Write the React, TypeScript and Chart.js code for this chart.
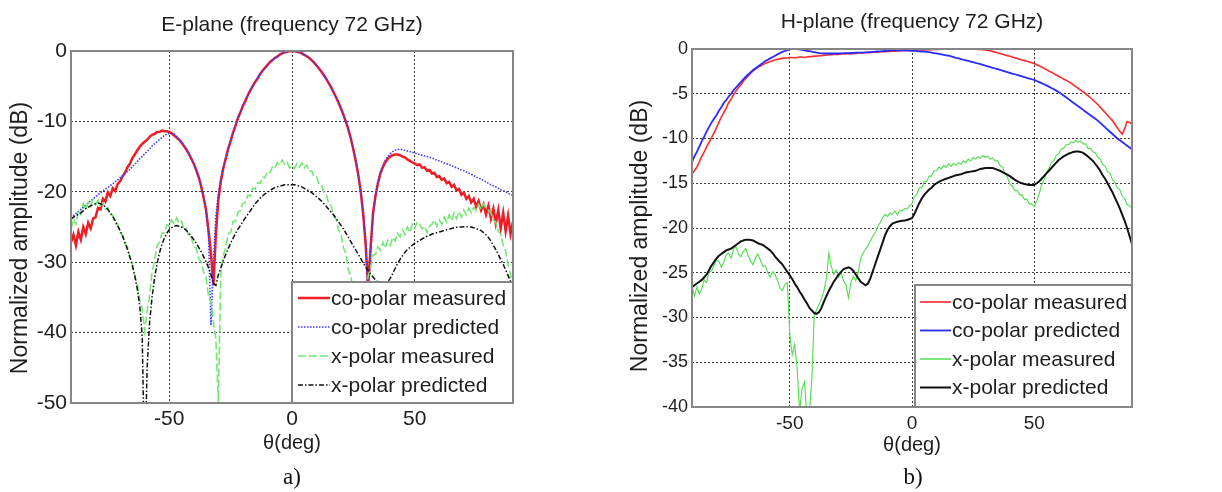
import React, { useEffect, useRef } from "react";
import { Chart, registerables } from "chart.js";

Chart.register(...registerables);

// ---------- data ----------
const THETA = [
  -90, -89, -88, -87, -86, -85, -84, -83, -82, -81,
  -80, -79, -78, -77, -76, -75, -74, -73, -72, -71,
  -70, -69, -68, -67, -66, -65, -64, -63, -62, -61,
  -60, -59, -58, -57, -56, -55, -54, -53, -52, -51,
  -50, -49, -48, -47, -46, -45, -44, -43, -42, -41,
  -40, -39, -38, -37, -36, -35, -34, -33, -32, -31,
  -30,
  -29, -28, -27, -26, -25, -24, -23, -22, -21, -20,
  -19, -18, -17, -16, -15, -14, -13, -12, -11, -10,
  -9, -8, -7, -6, -5, -4, -3, -2, -1, 0,
  1, 2, 3, 4, 5, 6, 7, 8, 9, 10,
  11, 12, 13, 14, 15, 16, 17, 18, 19, 20,
  21, 22, 23, 24, 25, 26, 27, 28, 29, 30,
  31, 32, 33, 34, 35, 36, 37, 38, 39, 40,
  41, 42, 43, 44, 45, 46, 47, 48, 49, 50,
  51, 52, 53, 54, 55, 56, 57, 58, 59, 60,
  61, 62, 63, 64, 65, 66, 67, 68, 69, 70,
  71, 72, 73, 74, 75, 76, 77, 78, 79, 80,
  81, 82, 83, 84, 85, 86, 87, 88, 89, 90,
];

const X_TICKS = [-50, 0, 50];
const LEGEND_LABELS = ["co-polar measured", "co-polar predicted", "x-polar measured", "x-polar predicted"];
const E_TITLE = "E-plane (frequency 72 GHz)";
const H_TITLE = "H-plane (frequency 72 GHz)";
const X_LABEL = "θ(deg)";
const Y_LABEL = "Normalized amplitude (dB)";
const PANEL_LABELS = ["a)", "b)"];

// E-plane
const E_COPOL_MEAS = [
  -27.2, -26.1, -27.6, -25.7, -26.8, -25.0, -26.0, -24.4, -25.2, -23.8,
  -23.6, -22.3, -22.5, -21.0, -21.4, -20.1, -20.6, -19.5, -19.9, -18.9,
  -18.5, -17.8, -17.3, -16.5, -16.0, -15.2, -14.7, -14.1, -13.6, -13.2,
  -12.9, -12.6, -12.2, -11.9, -11.8, -11.5, -11.5, -11.3, -11.4, -11.4,
  -11.5, -11.7, -12.0, -12.3, -12.6, -13.0, -13.5, -14.0, -14.6, -15.3,
  -16.0, -16.9, -17.9, -19.2, -20.8, -22.6, -25.5, -28.8, -33.3, -26.0,
  -21.2,
  -18.5, -16.7, -15.3, -13.9, -12.8, -11.6, -10.6, -9.5, -8.7, -7.8,
  -7.1, -6.3, -5.6, -5.0, -4.4, -3.9, -3.3, -2.8, -2.4, -2.0,
  -1.6, -1.3, -1.0, -0.8, -0.5, -0.35, -0.2, -0.1, -0.05, 0,
  -0.05, -0.1, -0.2, -0.35, -0.55, -0.75, -1.0, -1.3, -1.65, -2.05,
  -2.5, -2.95, -3.45, -4.0, -4.6, -5.2, -5.9, -6.6, -7.4, -8.2,
  -9.1, -10.1, -11.2, -12.5, -14.0, -15.7, -17.6, -20.0, -23.2, -27.5,
  -33.5, -28.0, -23.0, -20.6, -18.8, -17.4, -16.5, -15.8, -15.3, -15.0,
  -14.8, -14.7, -14.7, -14.8, -15.0, -15.1, -15.4, -15.6, -15.8, -16.0,
  -16.2, -16.1, -16.6, -16.5, -17.0, -16.9, -17.4, -17.3, -17.9, -17.8,
  -18.3, -18.1, -18.8, -18.6, -19.3, -19.0, -19.8, -19.6, -20.4, -20.1,
  -21.0, -20.6, -21.5, -21.0, -22.1, -21.3, -22.6, -21.8, -23.2, -22.0,
  -23.8, -22.4, -24.5, -22.6, -25.2, -23.0, -25.6, -23.4, -26.0, -24.2,
];

const E_COPOL_PRED = [
  -23.7, -23.4, -23.1, -22.8, -22.5, -22.2, -21.9, -21.6, -21.3, -21.0,
  -20.7, -20.4, -20.1, -19.9, -19.6, -19.4, -19.1, -18.9, -18.6, -18.3,
  -18.0, -17.7, -17.4, -17.1, -16.8, -16.4, -16.1, -15.7, -15.3, -15.0,
  -14.6, -14.3, -13.9, -13.5, -13.2, -12.9, -12.6, -12.3, -12.0, -11.8,
  -11.7, -11.7, -11.8, -12.1, -12.5, -12.9, -13.4, -14.0, -14.6, -15.3,
  -16.1, -17.0, -18.0, -19.2, -20.6, -22.6, -26.2, -39.0, -30.0, -23.5,
  -20.3,
  -18.2, -16.6, -15.2, -13.9, -12.7, -11.6, -10.5, -9.5, -8.6, -7.8,
  -7.0, -6.3, -5.6, -5.0, -4.4, -3.8, -3.3, -2.8, -2.4, -2.0,
  -1.6, -1.3, -1.0, -0.75, -0.53, -0.34, -0.19, -0.09, -0.02, 0,
  -0.02, -0.09, -0.19, -0.34, -0.53, -0.75, -1.0, -1.3, -1.65, -2.05,
  -2.5, -2.95, -3.45, -4.0, -4.6, -5.2, -5.9, -6.6, -7.4, -8.2,
  -9.1, -10.1, -11.2, -12.5, -14.0, -15.7, -17.6, -20.0, -23.0, -27.0,
  -35.0, -28.5, -23.5, -20.5, -18.6, -17.2, -16.2, -15.5, -15.0, -14.6,
  -14.3, -14.1, -14.0, -13.95, -14.0, -14.1, -14.2, -14.3, -14.4, -14.5,
  -14.6, -14.7, -14.8, -14.9, -15.0, -15.1, -15.2, -15.35, -15.5, -15.6,
  -15.75, -15.9, -16.0, -16.15, -16.3, -16.45, -16.6, -16.75, -16.9, -17.0,
  -17.2, -17.35, -17.5, -17.7, -17.9, -18.05, -18.2, -18.4, -18.6, -18.8,
  -19.0, -19.15, -19.3, -19.5, -19.7, -19.85, -20.0, -20.2, -20.35, -20.5,
];

const E_XPOL_MEAS = [
  -25.3, -23.8, -24.6, -22.6, -23.2, -21.7, -22.6, -21.5, -22.0, -21.1,
  -21.8, -21.2, -22.0, -21.6, -22.5, -22.3, -23.2, -23.3, -24.5, -24.6,
  -25.8, -26.2, -27.4, -27.8, -29.3, -30.2, -32.0, -33.0, -35.4, -36.6,
  -39.8, -37.0, -34.8, -31.4, -29.9, -27.7, -27.2, -25.9, -25.8, -24.7,
  -24.9, -24.0, -24.5, -23.7, -24.5, -24.2, -25.3, -25.2, -26.4, -26.5,
  -27.8, -28.0, -29.5, -29.9, -31.4, -32.2, -34.8, -35.6, -38.5, -41.0,
  -50.0,
  -31.8, -29.0, -28.0, -26.0, -25.8, -24.2, -24.2, -22.9, -22.7, -21.6,
  -21.5, -20.5, -20.6, -19.5, -19.6, -18.7, -18.8, -17.9, -18.0, -17.1,
  -17.3, -16.5, -16.7, -15.9, -16.2, -15.5, -16.1, -15.8, -16.6, -16.3,
  -16.7, -16.0, -16.5, -15.9, -16.6, -16.2, -17.1, -17.0, -17.9, -17.9,
  -18.9, -19.0, -20.1, -20.4, -21.7, -22.0, -23.5, -23.9, -25.5, -26.0,
  -28.0, -28.8, -31.2, -32.0, -34.5, -35.5, -38.0, -40.0, -37.5, -35.0,
  -32.0, -30.8, -29.0, -28.9, -27.8, -28.3, -27.2, -28.0, -26.9, -27.6,
  -26.5, -27.0, -25.9, -26.4, -25.4, -26.1, -25.0, -25.8, -24.6, -25.2,
  -24.3, -24.6, -25.3, -24.9, -25.8, -24.9, -24.6, -24.0, -24.9, -24.0,
  -24.6, -23.6, -24.3, -23.3, -24.1, -23.0, -23.8, -22.8, -23.6, -22.6,
  -23.3, -22.4, -23.0, -22.2, -22.7, -21.8, -22.5, -21.7, -22.3, -22.6,
  -23.0, -24.0, -24.3, -25.6, -26.0, -27.6, -28.4, -30.4, -31.8, -34.5,
];

const E_XPOL_PRED = [
  -23.9, -23.6, -23.4, -23.2, -23.0, -22.7, -22.4, -22.2, -22.0, -21.8,
  -21.7, -21.6, -21.7, -21.9, -22.1, -22.5, -23.0, -23.5, -24.1, -24.8,
  -25.5, -26.3, -27.2, -28.2, -29.3, -30.5, -32.0, -33.8, -36.2, -40.5,
  -60.0, -45.0, -38.6, -35.0, -32.3, -30.3, -28.7, -27.5, -26.6, -25.9,
  -25.4, -25.1, -24.9, -24.8, -24.9, -25.0, -25.2, -25.5, -25.9, -26.3,
  -26.8, -27.3, -27.9, -28.5, -29.2, -29.9, -30.8, -31.8, -33.0, -33.3,
  -31.8,
  -30.8, -29.8, -28.9, -28.1, -27.3, -26.6, -25.9, -25.3, -24.8, -24.2,
  -23.7, -23.2, -22.7, -22.2, -21.7, -21.3, -20.9, -20.6, -20.3, -20.1,
  -19.8, -19.6, -19.4, -19.3, -19.2, -19.1, -19.0, -19.0, -19.0, -19.0,
  -19.0, -19.1, -19.2, -19.3, -19.5, -19.7, -19.9, -20.1, -20.4, -20.7,
  -21.0, -21.3, -21.7, -22.1, -22.5, -22.9, -23.3, -23.8, -24.3, -24.8,
  -25.3, -25.9, -26.5, -27.1, -27.7, -28.3, -28.9, -29.5, -30.1, -30.7,
  -31.2, -31.7, -32.1, -32.5, -32.8, -33.0, -33.1, -33.1, -32.8, -32.3,
  -31.6, -30.9, -30.2, -29.6, -29.1, -28.6, -28.2, -27.9, -27.6, -27.3,
  -27.1, -26.9, -26.7, -26.5, -26.3, -26.2, -26.0, -25.9, -25.8, -25.7,
  -25.6, -25.5, -25.4, -25.3, -25.2, -25.1, -25.05, -25.0, -25.0, -24.95,
  -24.95, -25.0, -25.0, -25.1, -25.2, -25.35, -25.5, -25.8, -26.1, -26.5,
  -27.0, -27.6, -28.2, -28.9, -29.6, -30.3, -31.1, -31.9, -32.7, -33.5,
];

// H-plane
const H_COPOL_MEAS = [
  -13.9, -13.6, -13.2, -12.6, -12.0, -11.5, -10.9, -10.4, -9.9, -9.4,
  -8.8, -8.2, -7.6, -7.1, -6.6, -6.0, -5.6, -5.1, -4.7, -4.3,
  -4.0, -3.6, -3.3, -3.0, -2.7, -2.45, -2.25, -2.05, -1.9, -1.75,
  -1.6, -1.5, -1.4, -1.3, -1.2, -1.15, -1.1, -1.05, -1.0, -1.0,
  -0.95, -0.95, -1.0, -0.95, -0.9, -0.9, -0.95, -0.9, -0.85, -0.85,
  -0.8, -0.8, -0.75, -0.75, -0.7, -0.7, -0.65, -0.65, -0.6, -0.6,
  -0.6,
  -0.55, -0.55, -0.55, -0.5, -0.55, -0.5, -0.5, -0.45, -0.45, -0.45,
  -0.4, -0.4, -0.4, -0.35, -0.35, -0.35, -0.3, -0.3, -0.3, -0.28,
  -0.27, -0.25, -0.24, -0.22, -0.2, -0.2, -0.18, -0.17, -0.16, -0.15,
  -0.14, -0.13, -0.12, -0.11, -0.1, -0.09, -0.08, -0.07, -0.06, -0.05,
  -0.04, -0.03, -0.02, -0.01, 0, 0, 0, 0, 0, 0,
  0, 0, 0, 0, 0, -0.02, -0.04, -0.06, -0.08, -0.1,
  -0.15, -0.2, -0.27, -0.35, -0.43, -0.5, -0.58, -0.66, -0.74, -0.82,
  -0.9, -0.98, -1.06, -1.14, -1.22, -1.3, -1.38, -1.46, -1.54, -1.62,
  -1.75, -1.88, -2.0, -2.15, -2.3, -2.45, -2.6, -2.75, -2.9, -3.05,
  -3.2, -3.35, -3.5, -3.65, -3.8, -4.0, -4.2, -4.4, -4.6, -4.8,
  -5.0, -5.2, -5.45, -5.7, -5.95, -6.2, -6.5, -6.8, -7.1, -7.4,
  -7.7, -8.0, -8.4, -8.8, -9.2, -9.5, -8.9, -8.1, -8.2, -8.4,
];

const H_COPOL_PRED = [
  -12.6, -12.0, -11.5, -10.9, -10.3, -9.8, -9.2, -8.7, -8.2, -7.8,
  -7.4, -6.9, -6.5, -6.0, -5.7, -5.3, -5.0, -4.6, -4.3, -4.0,
  -3.7, -3.4, -3.1, -2.85, -2.6, -2.35, -2.15, -1.95, -1.75, -1.55,
  -1.35, -1.2, -1.05, -0.9, -0.75, -0.6, -0.45, -0.33, -0.22, -0.12,
  -0.05, 0, 0, 0, -0.05, -0.1, -0.15, -0.2, -0.25, -0.3,
  -0.35, -0.4, -0.45, -0.48, -0.5, -0.5, -0.5, -0.5, -0.5, -0.5,
  -0.5,
  -0.48, -0.47, -0.46, -0.45, -0.44, -0.43, -0.42, -0.41, -0.4, -0.4,
  -0.38, -0.36, -0.34, -0.32, -0.3, -0.28, -0.26, -0.24, -0.22, -0.2,
  -0.18, -0.16, -0.15, -0.15, -0.15, -0.15, -0.16, -0.17, -0.18, -0.2,
  -0.22, -0.24, -0.26, -0.28, -0.3, -0.33, -0.36, -0.4, -0.45, -0.5,
  -0.55, -0.6, -0.65, -0.7, -0.75, -0.82, -0.9, -0.98, -1.05, -1.12,
  -1.2, -1.27, -1.34, -1.41, -1.48, -1.55, -1.62, -1.7, -1.78, -1.86,
  -1.94, -2.02, -2.1, -2.18, -2.26, -2.34, -2.42, -2.5, -2.58, -2.66,
  -2.74, -2.82, -2.9, -2.98, -3.06, -3.14, -3.22, -3.3, -3.38, -3.46,
  -3.58, -3.7, -3.82, -3.94, -4.06, -4.2, -4.35, -4.5, -4.65, -4.8,
  -5.0, -5.2, -5.4, -5.6, -5.8, -6.0, -6.2, -6.4, -6.6, -6.8,
  -7.0, -7.2, -7.4, -7.6, -7.8, -8.0, -8.25, -8.5, -8.75, -9.0,
  -9.25, -9.5, -9.75, -10.0, -10.2, -10.4, -10.6, -10.8, -11.0, -11.2,
];

const H_XPOL_MEAS = [
  -26.5, -27.6, -26.6, -27.4, -26.8, -25.8, -26.1, -24.9, -24.8, -24.2,
  -23.6, -23.7, -24.4, -23.8, -23.0, -22.8, -23.4, -22.3, -22.1, -22.9,
  -23.2, -22.6, -22.3, -23.1, -23.7, -24.1, -23.3, -22.9, -23.6, -24.3,
  -24.2, -25.0, -25.5, -24.9, -25.2, -25.9, -26.7, -27.0, -26.3, -26.1,
  -31.8, -34.2, -33.0, -35.6, -40.5, -38.0, -37.2, -41.0, -40.8, -37.0,
  -29.8, -29.1, -28.5, -27.9, -27.0, -25.6, -22.8, -24.3, -25.2, -24.7,
  -25.5,
  -25.0, -25.9, -26.4, -27.8, -26.1, -25.4, -25.9, -25.0, -23.4, -22.8,
  -22.4, -22.0, -21.4, -20.9, -20.5, -19.8, -19.4, -18.8, -18.5, -18.7,
  -18.3, -18.5, -18.1, -18.5, -18.0, -18.1, -17.8, -17.9, -17.5, -17.3,
  -16.5, -16.2, -15.5, -15.5, -14.8, -14.8, -14.2, -14.2, -13.6, -13.6,
  -13.2, -13.4, -13.0, -13.2, -12.8, -13.1, -12.8, -13.0, -12.7, -12.9,
  -12.5, -12.7, -12.3, -12.5, -12.1, -12.3, -12.0, -12.2, -11.9, -12.1,
  -12.0, -12.3, -12.2, -12.5, -12.5, -13.0, -13.2, -13.9, -14.3, -15.1,
  -15.3, -15.8, -15.8, -16.3, -16.3, -16.8, -16.8, -17.3, -17.3, -17.6,
  -17.0, -16.2, -15.2, -14.7, -13.8, -13.4, -12.7, -12.5, -11.9, -11.7,
  -11.2, -11.1, -10.7, -10.7, -10.4, -10.5, -10.2, -10.4, -10.3, -10.6,
  -10.6, -11.1, -11.1, -11.5, -11.6, -12.1, -12.3, -12.9, -13.1, -13.7,
  -13.9, -14.6, -14.9, -15.5, -15.7, -16.4, -16.7, -17.4, -17.5, -17.8,
];

const H_XPOL_PRED = [
  -26.6, -26.4, -26.2, -26.0, -25.8, -25.5, -25.2, -24.7, -24.2, -23.8,
  -23.4, -23.1, -22.9, -22.7, -22.5, -22.4, -22.3, -22.1, -21.9, -21.7,
  -21.5, -21.4, -21.3, -21.3, -21.35, -21.4, -21.55, -21.7, -21.8, -21.9,
  -22.1, -22.3, -22.5, -22.8, -23.2, -23.5, -23.8, -24.1, -24.5, -24.9,
  -25.3, -25.7, -26.2, -26.6, -27.1, -27.5, -28.0, -28.4, -28.9, -29.2,
  -29.5, -29.6, -29.4, -28.9, -28.2, -27.6, -27.0, -26.5, -26.0, -25.6,
  -25.2,
  -24.9, -24.6, -24.5, -24.4, -24.5, -24.8, -25.2, -25.6, -26.0, -26.2,
  -26.4, -26.2, -25.6, -24.8, -24.0, -23.2, -22.4, -21.6, -20.8, -20.2,
  -19.8, -19.5, -19.4, -19.3, -19.25, -19.2, -19.15, -19.1, -19.0, -18.9,
  -18.4, -17.8, -17.2, -16.7, -16.3, -16.0, -15.7, -15.5, -15.2, -15.0,
  -14.85, -14.7, -14.6, -14.5, -14.4, -14.3, -14.2, -14.1, -14.05, -14.0,
  -13.9, -13.8, -13.75, -13.7, -13.65, -13.6, -13.5, -13.4, -13.35, -13.3,
  -13.3, -13.3, -13.3, -13.4, -13.5, -13.6, -13.75, -13.9, -14.05, -14.2,
  -14.4, -14.6, -14.75, -14.9, -15.0, -15.1, -15.15, -15.2, -15.2, -15.2,
  -15.0, -14.8, -14.5, -14.2, -13.9, -13.6, -13.3, -13.0, -12.7, -12.4,
  -12.2, -12.0, -11.85, -11.7, -11.6, -11.5, -11.45, -11.45, -11.5, -11.6,
  -11.8, -12.0, -12.25, -12.5, -12.85, -13.2, -13.6, -14.1, -14.5, -15.0,
  -15.5, -16.0, -16.6, -17.2, -17.8, -18.5, -19.2, -20.0, -20.9, -21.8,
];

// ---------- styles ----------
const FONT = 'Arial, "Liberation Sans", Helvetica, sans-serif';
const TEXT = "#1e1e1e";
const GRID = "#3a3a3a";
const FRAME = "#858585";

type Series = { values: number[]; color: string; width: number; dash: number[] };
type Spec = {
  title: string;
  titleY: number;
  yMin: number;
  yMax: number;
  yStep: number;
  series: Series[];
  padTop: number;
  padRight: number;
  yAxisW: number;
  xAxisH: number;
  yTickFont: number;
  xTickFont: number;
  xTickPad: number;
  yTitleX: number;
  yTitleY: number;
  xTitlePad: number;
  legend: { dx: number; height: number; firstRow: number; rowGap: number; lineStart: number; lineEnd: number; textX: number; font: number };
};

const E_SPEC: Spec = {
  title: E_TITLE,
  titleY: 25,
  yMin: -50,
  yMax: 0,
  yStep: 10,
  series: [
    { values: E_COPOL_MEAS, color: "#ee1c24", width: 2.5, dash: [] },
    { values: E_COPOL_PRED, color: "#3a3aff", width: 1.6, dash: [1.5, 1.5] },
    { values: E_XPOL_MEAS, color: "#74e874", width: 1.6, dash: [8, 3] },
    { values: E_XPOL_PRED, color: "#111111", width: 1.5, dash: [5, 2, 1.5, 2] },
  ],
  padTop: 51,
  padRight: 98,
  yAxisW: 71,
  xAxisH: 89,
  yTickFont: 21,
  xTickFont: 21,
  xTickPad: 4,
  yTitleX: 21,
  yTitleY: 238,
  xTitlePad: 37,
  legend: { dx: 0, height: 121, firstRow: 16, rowGap: 29, lineStart: 6, lineEnd: 38, textX: 39, font: 21 },
};

const H_SPEC: Spec = {
  title: H_TITLE,
  titleY: 22,
  yMin: -40,
  yMax: 0,
  yStep: 5,
  series: [
    { values: H_COPOL_MEAS, color: "#ff2a2a", width: 1.6, dash: [] },
    { values: H_COPOL_PRED, color: "#2a2aff", width: 1.8, dash: [] },
    { values: H_XPOL_MEAS, color: "#4ede4e", width: 1.1, dash: [] },
    { values: H_XPOL_PRED, color: "#111111", width: 2, dash: [] },
  ],
  padTop: 49,
  padRight: 90,
  yAxisW: 81,
  xAxisH: 85,
  yTickFont: 18,
  xTickFont: 19,
  xTickPad: 5,
  yTitleX: 30,
  yTitleY: 236,
  xTitlePad: 35,
  legend: { dx: 3, height: 122, firstRow: 17, rowGap: 28.5, lineStart: 5, lineEnd: 36, textX: 37, font: 21 },
};

const decorPlugin = {
  id: "decor",
  afterDatasetsDraw(chart: any, _args: any, opts: any) {
    const { ctx, chartArea: ca } = chart;
    const xs = chart.scales.x;
    const lg = opts.legend;
    ctx.save();
    // legend box
    const left = xs.getPixelForValue(0) + lg.dx;
    const top = ca.bottom - lg.height;
    ctx.fillStyle = "#ffffff";
    ctx.fillRect(left, top, ca.right - left, ca.bottom - top);
    ctx.strokeStyle = FRAME;
    ctx.lineWidth = 2;
    ctx.setLineDash([]);
    ctx.strokeRect(left, top, ca.right - left, ca.bottom - top);
    chart.data.datasets.forEach((ds: any, i: number) => {
      const y = top + lg.firstRow + i * lg.rowGap;
      ctx.beginPath();
      ctx.setLineDash(ds.borderDash || []);
      ctx.strokeStyle = ds.borderColor;
      ctx.lineWidth = Math.max(ds.borderWidth, 1.5);
      ctx.moveTo(left + lg.lineStart, y);
      ctx.lineTo(left + lg.lineEnd, y);
      ctx.stroke();
      ctx.setLineDash([]);
      ctx.fillStyle = TEXT;
      ctx.font = `${lg.font}px ${FONT}`;
      ctx.textBaseline = "middle";
      ctx.textAlign = "left";
      ctx.fillText(ds.label, left + lg.textX, y + 1);
    });
    // plot frame
    ctx.strokeStyle = FRAME;
    ctx.lineWidth = 2;
    ctx.strokeRect(ca.left, ca.top, ca.right - ca.left, ca.bottom - ca.top);
    // title
    ctx.fillStyle = TEXT;
    ctx.font = `21px ${FONT}`;
    ctx.textAlign = "center";
    ctx.textBaseline = "middle";
    ctx.fillText(opts.title, (ca.left + ca.right) / 2, opts.titleY);
    // y axis title
    ctx.translate(opts.yTitleX, opts.yTitleY);
    ctx.rotate(-Math.PI / 2);
    ctx.font = `23px ${FONT}`;
    ctx.fillText(opts.yLabel, 0, 0);
    ctx.restore();
  },
};

function buildConfig(spec: Spec): any {
  return {
    type: "line",
    data: {
      datasets: spec.series.map((s, i) => ({
        label: LEGEND_LABELS[i],
        data: THETA.map((t, j) => ({ x: t, y: s.values[j] })),
        borderColor: s.color,
        borderWidth: s.width,
        borderDash: s.dash,
        pointRadius: 0,
        tension: 0,
        fill: false,
        order: 3 - i,
      })),
    },
    options: {
      animation: false,
      responsive: false,
      devicePixelRatio: 1,
      layout: { padding: { left: 0, top: spec.padTop, right: spec.padRight, bottom: 0 } },
      plugins: {
        legend: { display: false },
        tooltip: { enabled: false },
        decor: {
          title: spec.title,
          titleY: spec.titleY,
          legend: spec.legend,
          yLabel: Y_LABEL,
          yTitleX: spec.yTitleX,
          yTitleY: spec.yTitleY,
        },
      },
      scales: {
        x: {
          type: "linear",
          min: -90,
          max: 90,
          afterBuildTicks: (s: any) => {
            s.ticks = X_TICKS.map((v) => ({ value: v }));
          },
          afterFit: (s: any) => {
            s.height = spec.xAxisH;
          },
          grid: { color: GRID, lineWidth: 1, drawTicks: false },
          border: { display: false, dash: [2, 2] },
          ticks: { padding: spec.xTickPad, color: TEXT, font: { family: FONT, size: spec.xTickFont } },
          title: {
            display: true,
            text: X_LABEL,
            color: TEXT,
            font: { family: FONT, size: 20 },
            padding: { top: 0, bottom: spec.xTitlePad },
          },
        },
        y: {
          type: "linear",
          min: spec.yMin,
          max: spec.yMax,
          afterFit: (s: any) => {
            s.width = spec.yAxisW;
          },
          grid: { color: GRID, lineWidth: 1, drawTicks: false },
          border: { display: false, dash: [2, 2] },
          ticks: { stepSize: spec.yStep, padding: 4, color: TEXT, font: { family: FONT, size: spec.yTickFont } },
          title: { display: false },
        },
      },
    },
    plugins: [decorPlugin],
  };
}

function PlaneChart({ spec, left }: { spec: Spec; left: number }) {
  const ref = useRef<HTMLCanvasElement>(null);
  useEffect(() => {
    const chart = new Chart(ref.current as HTMLCanvasElement, buildConfig(spec));
    return () => chart.destroy();
  }, [spec]);
  return (
    <canvas
      ref={ref}
      width={611}
      height={492}
      style={{ position: "absolute", left, top: 0, width: 611, height: 492 }}
    />
  );
}

export default function App() {
  const panelStyle = (cx: number): React.CSSProperties => ({
    position: "absolute",
    left: cx - 40,
    width: 80,
    top: 463,
    height: 28,
    lineHeight: "28px",
    textAlign: "center",
    fontFamily: '"Liberation Serif", "DejaVu Serif", serif',
    fontSize: 23,
    color: "#111",
  });
  return (
    <div style={{ position: "fixed", left: 0, top: 0, width: 1222, height: 492, background: "#fff", overflow: "hidden" }}>
      <PlaneChart spec={E_SPEC} left={0} />
      <PlaneChart spec={H_SPEC} left={611} />
      <div style={panelStyle(292)}>{PANEL_LABELS[0]}</div>
      <div style={panelStyle(913)}>{PANEL_LABELS[1]}</div>
    </div>
  );
}
